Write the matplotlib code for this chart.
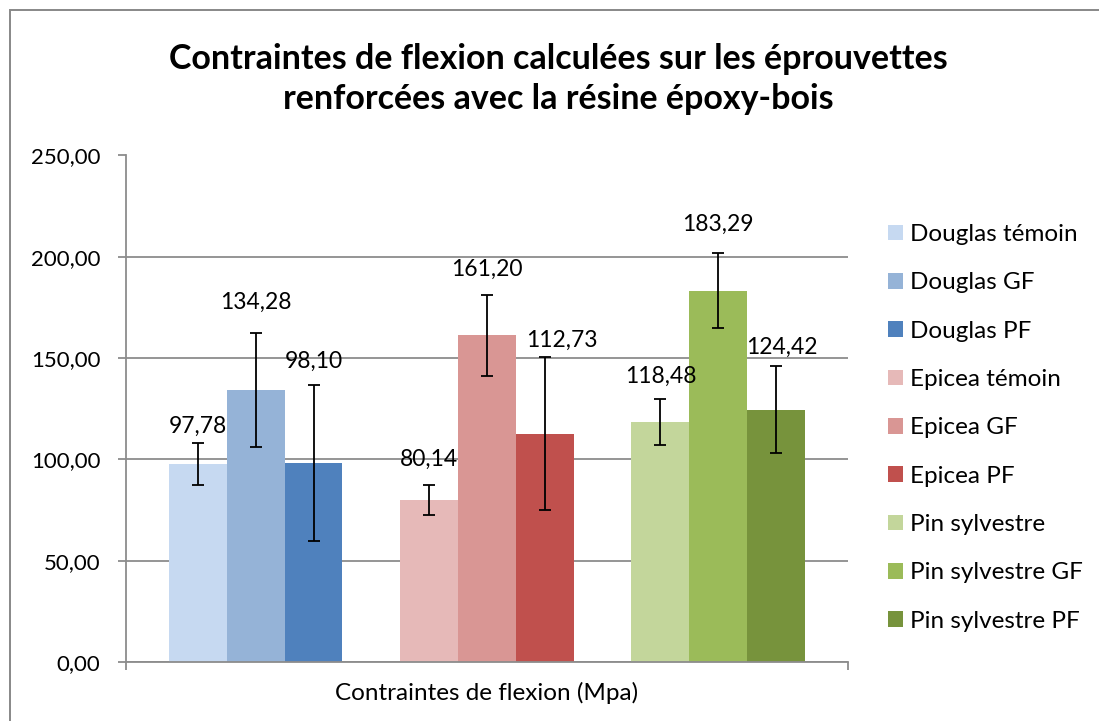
import matplotlib
matplotlib.use("Agg")
import matplotlib.pyplot as plt
from matplotlib.patches import Patch, Rectangle
import numpy as np

# ---- data ----
series = ["Douglas témoin", "Douglas GF", "Douglas PF",
          "Epicea témoin", "Epicea GF", "Epicea PF",
          "Pin sylvestre", "Pin sylvestre GF", "Pin sylvestre PF"]
values = [97.78, 134.28, 98.10, 80.14, 161.20, 112.73, 118.48, 183.29, 124.42]
errors = [10.4, 28.3, 38.5, 7.4, 19.8, 37.6, 11.5, 18.4, 21.5]
value_labels = ["97,78", "134,28", "98,10", "80,14", "161,20", "112,73",
                "118,48", "183,29", "124,42"]
category = "Contraintes de flexion (Mpa)"
title = "Contraintes de flexion calculées sur les éprouvettes\nrenforcées avec la résine époxy-bois"
yticks = [0, 50, 100, 150, 200, 250]
ytick_labels = ["0,00", "50,00", "100,00", "150,00", "200,00", "250,00"]

# ---- style ----
colors = ["#C6D9F1", "#95B3D7", "#4F81BD",
          "#E6B9B8", "#D99694", "#C0504D",
          "#C3D69B", "#9BBB59", "#77933C"]
label_dx = [0, 0, 0, 0, 0, 12, 0, 0, 4]        # points
label_dy = [12, 22, 17, 18, 19, 12, 16, 21, 14]  # points above error bar top
FONT = "Lato"
grid_c = "#8C8C8C"

W, H = 1099, 721
fig = plt.figure(figsize=(W / 100, H / 100), dpi=100)
fig.patch.set_facecolor("white")

# chart border
fig.add_artist(Rectangle((9.5 / W, -0.1), 1.2, 1 - 9.5 / H + 0.1,
                         transform=fig.transFigure, fill=False,
                         edgecolor="#888888", linewidth=1.4))

ax = fig.add_axes([126 / W, 1 - 662 / H, (848 - 126) / W, (662 - 155.5) / H])

bar_w = 1.0
offset0 = 0.744
group_size = 3
slots = [offset0 + (i // group_size) * (group_size + 1) + (i % group_size) + bar_w / 2
         for i in range(len(values))]

for i in range(len(values)):
    ax.bar(slots[i], values[i], width=bar_w, color=colors[i], label=series[i],
           zorder=2, linewidth=0)
    ax.errorbar(slots[i], values[i], yerr=errors[i], fmt="none", ecolor="black",
                elinewidth=1.3, capsize=4.3, capthick=1.3, zorder=3)
    ax.annotate(value_labels[i], (slots[i], values[i] + errors[i]),
                xytext=(label_dx[i], label_dy[i]), textcoords="offset points",
                ha="center", va="center", fontsize=16.5, family=FONT, color="black")

ax.set_xlim(0, 12.49)
ax.set_ylim(0, 250)
ax.set_yticks(yticks)
ax.set_yticklabels(ytick_labels, family=FONT, fontsize=16)
ax.set_xticks([0, 12.49])
ax.set_xticklabels(["", ""])
ax.tick_params(axis="both", direction="out", length=5.8, width=1.3, color=grid_c)
ax.tick_params(axis="y", pad=12.5)
ax.yaxis.grid(True, color=grid_c, linewidth=1.3, zorder=0)
ax.set_axisbelow(True)
for s in ["top", "right"]:
    ax.spines[s].set_visible(False)
for s in ["left", "bottom"]:
    ax.spines[s].set_color(grid_c)
    ax.spines[s].set_linewidth(1.3)

fig.text(487 / W, 1 - 693 / H, category, ha="center", va="center",
         fontsize=17.5, family=FONT)
fig.text(558 / W, 1 - 79 / H, title, ha="center", va="center",
         fontsize=24.5, family=FONT, fontweight="bold", linespacing=1.28)

handles = [Patch(facecolor=c, edgecolor="none") for c in colors]
leg = fig.legend(handles, series, loc="upper left",
                 bbox_to_anchor=(888 / W, 1 - 224 / H), frameon=False,
                 prop={"family": FONT, "size": 17.5},
                 handlelength=0.62, handleheight=0.62, handletextpad=0.29,
                 labelspacing=1.125, borderaxespad=0, borderpad=0)

fig.savefig("out.png", dpi=100)
